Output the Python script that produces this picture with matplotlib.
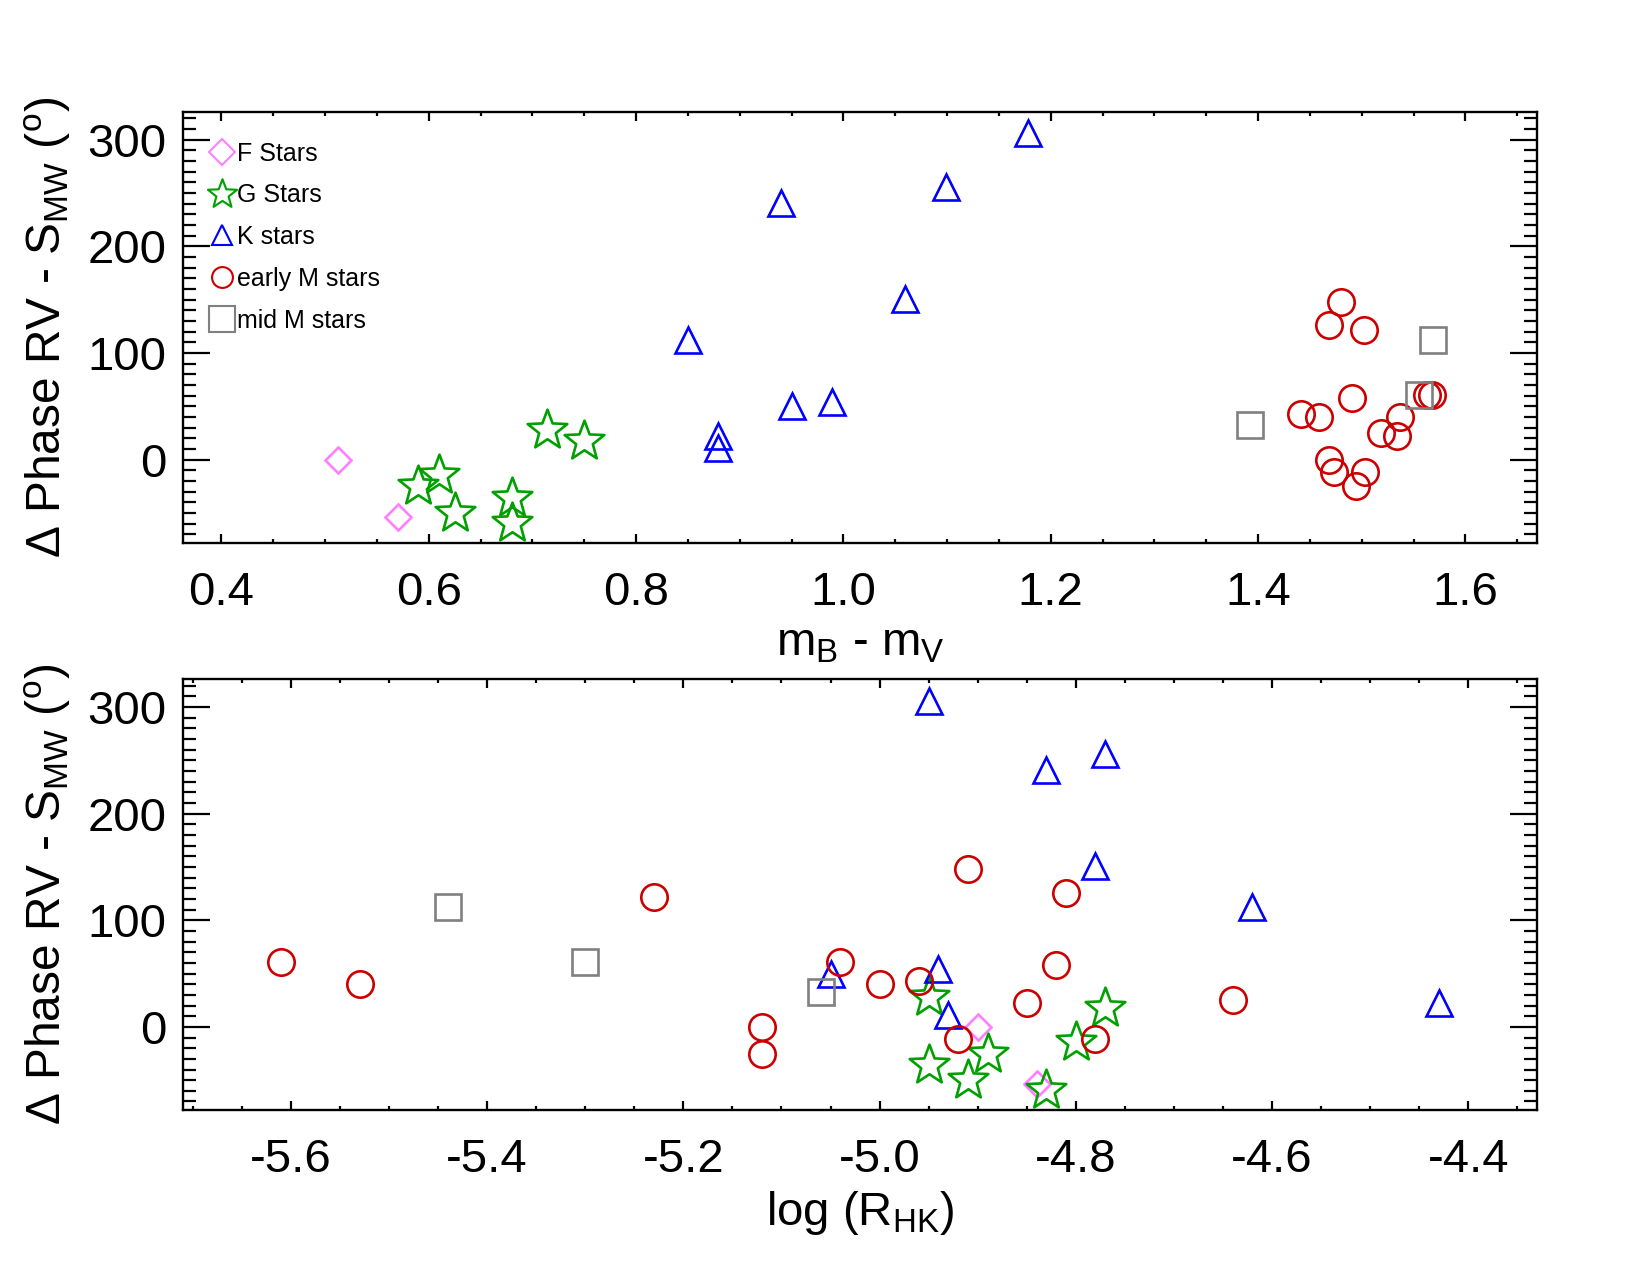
import matplotlib
matplotlib.use("Agg")
import matplotlib.pyplot as plt
from matplotlib.ticker import MultipleLocator, FormatStrFormatter
from matplotlib.lines import Line2D
from matplotlib.path import Path
import numpy as np

# ---------------- data ----------------
f_bv = [0.513, 0.570]
f_rhk = [-4.90, -4.84]
f_dphase = [0, -54]

g_bv = [0.714, 0.750, 0.610, 0.590, 0.625, 0.680, 0.680]
g_rhk = [-4.95, -4.77, -4.80, -4.89, -4.91, -4.95, -4.83]
g_dphase = [28, 18, -14, -25, -50, -36, -59]

k_bv = [1.178, 1.099, 0.940, 1.059, 0.850, 0.950, 0.989, 0.879, 0.879]
k_rhk = [-4.95, -4.77, -4.83, -4.78, -4.62, -5.05, -4.94, -4.43, -4.93]
k_dphase = [306, 256, 241, 151, 112, 50, 54, 22, 11]

em_bv = [1.480, 1.468, 1.502, 1.491, 1.441, 1.459, 1.537, 1.519, 1.534,
         1.468, 1.473, 1.503, 1.494, 1.563, 1.568]
em_rhk = [-4.91, -4.81, -5.23, -4.82, -4.96, -5.00, -5.53, -4.64, -4.85,
          -5.12, -4.92, -4.78, -5.12, -5.61, -5.04]
em_dphase = [148, 126, 122, 58, 43, 40, 40, 25, 22, 0, -11, -11, -25, 61, 61]

mm_bv = [1.392, 1.569, 1.555]
mm_rhk = [-5.06, -5.44, -5.30]
mm_dphase = [33, 112, 61]

labels = ["F Stars", "G Stars", "K stars", "early M stars", "mid M stars"]

# ---------------- style ----------------
plt.rcParams['font.family'] = ['Liberation Sans', 'DejaVu Sans']
plt.rcParams['mathtext.fontset'] = 'custom'
plt.rcParams['mathtext.rm'] = 'Liberation Sans'
plt.rcParams['mathtext.it'] = 'Liberation Sans:italic'
plt.rcParams['mathtext.sf'] = 'Liberation Sans'

C_F = '#ff80ff'
C_G = '#00a000'
C_K = '#0000ff'
C_EM = '#cc0000'
C_MM = '#808080'
LW = 1.9

# IDL-like five point star (slightly fuller than matplotlib's '*')
_ang = np.pi / 2 + np.arange(10) * np.pi / 5
_rad = np.where(np.arange(10) % 2 == 0, 1.0, 0.42)
_verts = np.column_stack([_rad * np.cos(_ang), _rad * np.sin(_ang)])
STAR = Path(np.vstack([_verts, _verts[:1]]), closed=True)

styles = [
    dict(marker='D', ms=13.5, color=C_F),
    dict(marker=STAR, ms=30, color=C_G),
    dict(marker='^', ms=19, color=C_K),
    dict(marker='o', ms=19, color=C_EM),
    dict(marker='s', ms=19, color=C_MM),
]
legend_ms = [13.5, 22, 15, 15, 19]

fig = plt.figure(figsize=(16.5, 12.75), dpi=100)
ax1 = fig.add_axes([0.1109, 0.5741, 0.8206, 0.3381])
ax2 = fig.add_axes([0.1109, 0.1294, 0.8206, 0.3378])

ylab = r'$\Delta$ Phase RV - S$_{\rm MW}$ ($^{\rm o}$)'


def draw(ax, xs_list, ys_list):
    for xs, ys, st in zip(xs_list, ys_list, styles):
        ax.plot(xs, ys, linestyle='none', marker=st['marker'], ms=st['ms'],
                mfc='none', mec=st['color'], mew=LW)
    ax.set_ylim(-78, 326)
    ax.yaxis.set_major_locator(MultipleLocator(100))
    ax.yaxis.set_minor_locator(MultipleLocator(10))
    ax.xaxis.set_major_formatter(FormatStrFormatter('%.1f'))
    ax.xaxis.set_minor_locator(MultipleLocator(0.05))
    ax.xaxis.set_major_locator(MultipleLocator(0.2))
    ax.tick_params(axis='both', which='both', direction='in', top=True,
                   right=True, width=1.6, labelsize=34)
    ax.tick_params(axis='x', which='major', length=6.5, pad=20)
    ax.tick_params(axis='x', which='minor', length=3.2)
    ax.tick_params(axis='y', which='major', length=19.5, pad=12)
    ax.tick_params(axis='y', which='minor', length=9.5)
    for sp in ax.spines.values():
        sp.set_linewidth(1.7)
    ax.set_ylabel(ylab, fontsize=34.5, labelpad=10)


draw(ax1, [f_bv, g_bv, k_bv, em_bv, mm_bv],
     [f_dphase, g_dphase, k_dphase, em_dphase, mm_dphase])
ax1.set_xlim(0.363, 1.669)
ax1.set_xlabel(r'm$_{\rm B}$ - m$_{\rm V}$', fontsize=34, labelpad=5)

draw(ax2, [f_rhk, g_rhk, k_rhk, em_rhk, mm_rhk],
     [f_dphase, g_dphase, k_dphase, em_dphase, mm_dphase])
ax2.set_xlim(-5.710, -4.330)
ax2.set_xlabel(r'log (R$_{\rm HK}$)', fontsize=34, labelpad=5)

handles = [Line2D([], [], linestyle='none', marker=st['marker'], ms=m,
                  mfc='none', mec=st['color'], mew=LW * 0.8)
           for st, m in zip(styles, legend_ms)]
ax1.legend(handles, labels, loc='upper left', bbox_to_anchor=(0.007, 0.972),
           frameon=False, fontsize=18, handlelength=1.0, handletextpad=0.07,
           labelspacing=0.71, borderaxespad=0.4, borderpad=0.3)

fig.savefig('out.png', dpi=100)
